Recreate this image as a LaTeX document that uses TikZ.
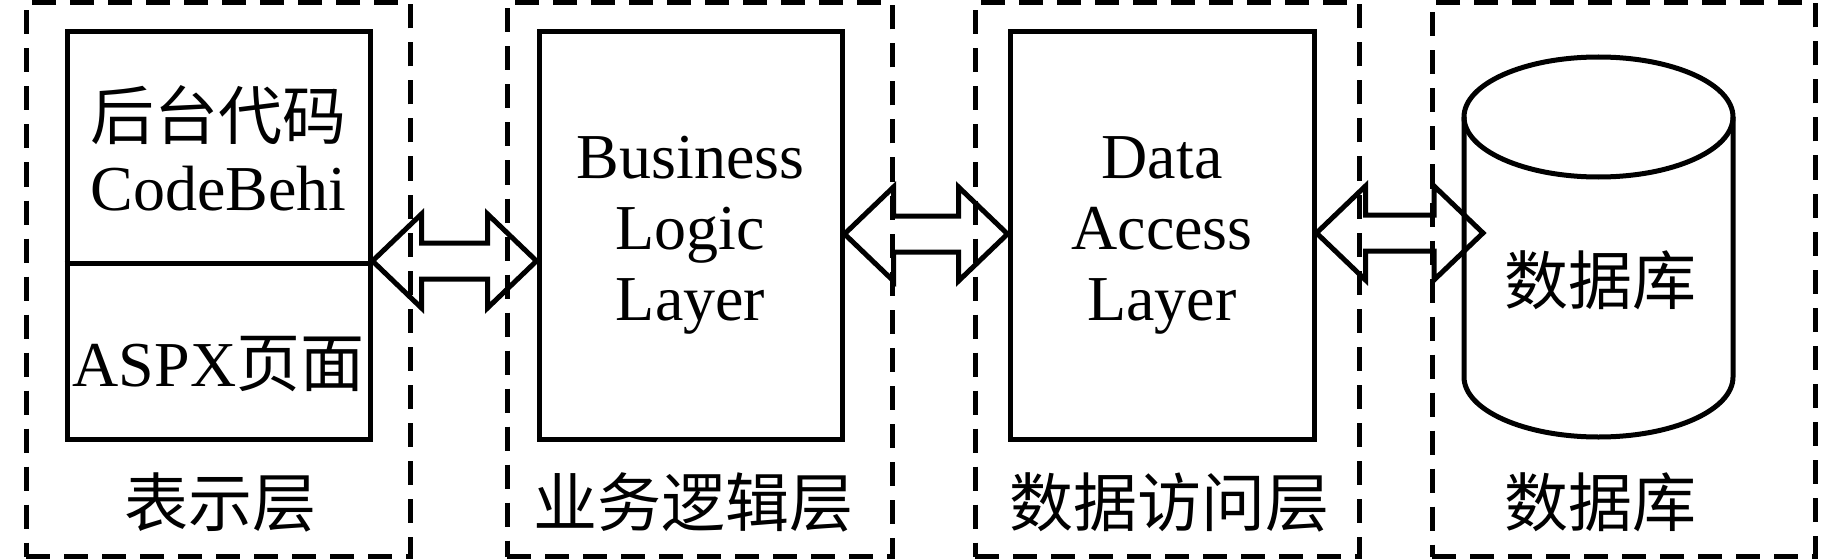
\documentclass[tikz,border=0pt]{standalone}
\usepackage{fontspec}
\setmainfont{Liberation Serif}
\newfontfamily\cjk{Noto Sans CJK SC}
\usetikzlibrary{calc}
\newcommand\fatarrow[2]{%
  \draw[fat] (#1) -- ++(49,-47) -- ++(0,29) -- ($(#2)+(-49,-18)$) -- ++(0,-29) -- (#2)
    -- ++(-49,47) -- ++(0,-29) -- ($(#1)+(49,18)$) -- ++(0,29) -- cycle;}
\begin{document}
\begin{tikzpicture}[x=1pt,y=-1pt,
  layer/.style={draw, dash pattern=on 24pt off 14pt, line width=5pt, minimum width=#1, minimum height=554pt, inner sep=0pt},
  box/.style={draw, line width=5pt, minimum width=#1, minimum height=407pt, inner sep=0pt},
  fat/.style={line width=5pt, miter limit=10},
  txt/.style={font=\fontsize{64}{71}\selectfont, inner sep=0pt, align=center}]
\useasboundingbox (0,0) rectangle (1842,559);
% dashed layers
\node[layer=384pt] (L1) at (218,279.5) {};
\node[layer=385pt] (L2) at (699.5,279.5) {};
\node[layer=384pt] (L3) at (1167,279.5) {};
\node[layer=383pt] (L4) at (1623.5,279.5) {};
% boxes
\node[box=303pt] (pres) at (218.5,235.5) {};
\node[box=303pt] (bll) at (690.5,235.5) {};
\node[box=304pt] (dal) at (1162,235.5) {};
\draw[line width=5pt] (pres.west |- 0,263) coordinate (divl) -- (pres.east |- 0,263) coordinate (divr);
% cylinder
\coordinate (db) at (1598.5,247);
\draw[line width=5pt] (1464,117) -- (1464,377) arc[start angle=180, end angle=0, x radius=134.5, y radius=60] -- (1733,117);
\draw[line width=5pt] (1598.5,117) ellipse [x radius=134.5, y radius=60];
\coordinate (dbw) at (1483,233);
% texts
\node[txt] (t1) at (218.5,148) {{\cjk 后台代码}\\CodeBehi};
\node[txt, anchor=base] (t2) at (218.5,386) {ASPX{\cjk 页面}};
\node[txt] (t3) at (690.5,235) {Business\\Logic\\Layer};
\node[txt] (t4) at (1162,235) {Data\\Access\\Layer};
\node[txt, anchor=base] (t5) at (1600,304) {\cjk 数据库};
\node[txt, anchor=base] (c1) at (220,526) {\cjk 表示层};
\node[txt, anchor=base] (c2) at (693,526) {\cjk 业务逻辑层};
\node[txt, anchor=base] (c3) at (1169,526) {\cjk 数据访问层};
\node[txt, anchor=base] (c4) at (1600,526) {\cjk 数据库};
% arrows
\coordinate (a1l) at (pres.east |- 0,261);
\coordinate (a1r) at (bll.west |- 0,261);
\coordinate (a2l) at (bll.east |- 0,234);
\coordinate (a2r) at (dal.west |- 0,234);
\coordinate (a3l) at (dal.east |- 0,233);
\fatarrow{a1l}{a1r}
\fatarrow{a2l}{a2r}
\fatarrow{a3l}{dbw}
\end{tikzpicture}
\end{document}
